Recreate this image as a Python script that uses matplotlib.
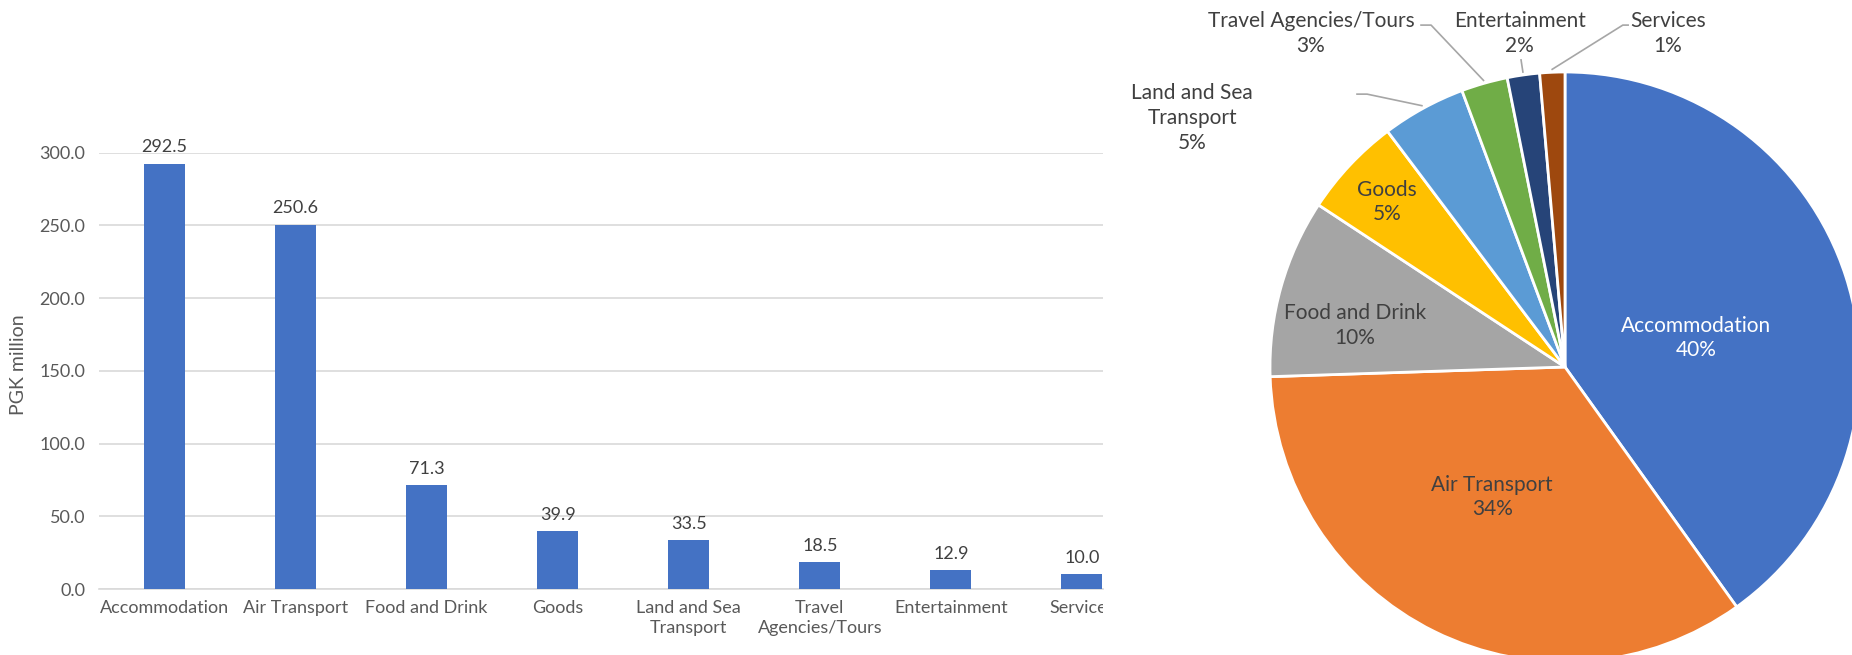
import matplotlib
matplotlib.use("Agg")
import matplotlib.pyplot as plt
from matplotlib.transforms import Bbox, TransformedBbox
import numpy as np

categories = ["Accommodation", "Air Transport", "Food and Drink", "Goods",
              "Land and Sea\nTransport", "Travel\nAgencies/Tours",
              "Entertainment", "Services"]
pie_names = ["Accommodation", "Air Transport", "Food and Drink", "Goods",
             "Land and Sea\nTransport", "Travel Agencies/Tours",
             "Entertainment", "Services"]
values = [292.5, 250.6, 71.3, 39.9, 33.5, 18.5, 12.9, 10.0]
yticks = [0, 50, 100, 150, 200, 250, 300]

colors = ["#4472C4", "#ED7D31", "#A5A5A5", "#FFC000",
          "#5B9BD5", "#70AD47", "#264478", "#9E480E"]

plt.rcParams['font.family'] = ['Lato', 'DejaVu Sans']

W, H = 1852, 655
fig = plt.figure(figsize=(W / 100, H / 100), dpi=100)

# ---- bar chart ----
left, right, top, bottom = 99, 1103, 152.7, 589
ax = fig.add_axes([left / W, 1 - bottom / H, (right - left) / W, (bottom - top) / H])
x = np.arange(len(values))
bw = 0.313
ax.bar(x, values, width=bw, color="#4472C4", zorder=3)
ax.set_xlim(-0.5, len(values) - 1 + bw / 2 + 0.004)
ax.set_ylim(0, 300)
ax.set_yticks(yticks)
ax.set_yticklabels([f"{v:.1f}" for v in yticks])
ax.grid(axis='y', color="#D9D9D9", lw=1.2, zorder=0)
for s in ["top", "right", "left"]:
    ax.spines[s].set_visible(False)
ax.spines["bottom"].set_color("#D9D9D9")
ax.spines["bottom"].set_linewidth(1.2)
ax.tick_params(length=0, labelsize=13, labelcolor="#595959")
ax.tick_params(axis='y', pad=10)
ax.tick_params(axis='x', pad=8)
ax.set_xticks(x)
ax.set_xticklabels(categories, linespacing=1.3)
# the right end of the chart is cut off, as in the source image
clip = TransformedBbox(Bbox([[0, 0], [right / W, 1]]), fig.transFigure)
for lab in ax.get_xticklabels():
    lab.set_clip_on(True)
    lab.set_clip_box(clip)
for xi, v in zip(x, values):
    ax.annotate(f"{v:.1f}", (xi, v), xytext=(0, 6), textcoords="offset points",
                ha="center", va="bottom", fontsize=13, color="#404040")
fig.text(19 / W, 1 - 365 / H, "PGK million", rotation=90, ha="center", va="center",
         fontsize=14, color="#595959")

# ---- pie chart ----
cx, cy, r = 1565, 367, 295
pax = fig.add_axes([(cx - r) / W, 1 - (cy + r) / H, 2 * r / W, 2 * r / H])
wedges, _ = pax.pie(values, colors=colors, startangle=90, counterclock=False,
                    radius=1, wedgeprops=dict(edgecolor="white", linewidth=2))
pax.set_xlim(-1, 1)
pax.set_ylim(-1, 1)
pax.set_aspect('equal', adjustable='box')
pax.axis('off')

total = sum(values)
pcts = [round(v / total * 100) for v in values]

# label placement (pie axis units) and leader line start points
label_pos = [(0.444, 0.098), (-0.247, -0.441), (-0.712, 0.142), (-0.603, 0.559),
             (-1.264, 0.844), (-0.861, 1.13), (-0.153, 1.13), (0.349, 1.13)]
leader_start = [None, None, None, None,
                [(-0.705, 0.925), (-0.671, 0.925)],
                [(-0.488, 1.159), (-0.454, 1.159)],
                [(-0.149, 1.041)],
                [(0.196, 1.159), (0.214, 1.159)]]
text_col = ["white"] + ["#404040"] * 7

for i, w in enumerate(wedges):
    lx, ly = label_pos[i]
    pax.text(lx, ly, f"{pie_names[i]}\n{pcts[i]}%", ha="center", va="center",
             fontsize=15, color=text_col[i], linespacing=1.3, clip_on=False)
    if leader_start[i] is not None:
        mid = np.deg2rad((w.theta1 + w.theta2) / 2)
        pts = leader_start[i]
        if i == 7:
            pts = pts[::-1]
        xs = [p[0] for p in pts] + [1.01 * np.cos(mid)]
        ys = [p[1] for p in pts] + [1.01 * np.sin(mid)]
        pax.plot(xs, ys, color="#A6A6A6", lw=1.2, clip_on=False)

fig.savefig("out.png", dpi=100)
